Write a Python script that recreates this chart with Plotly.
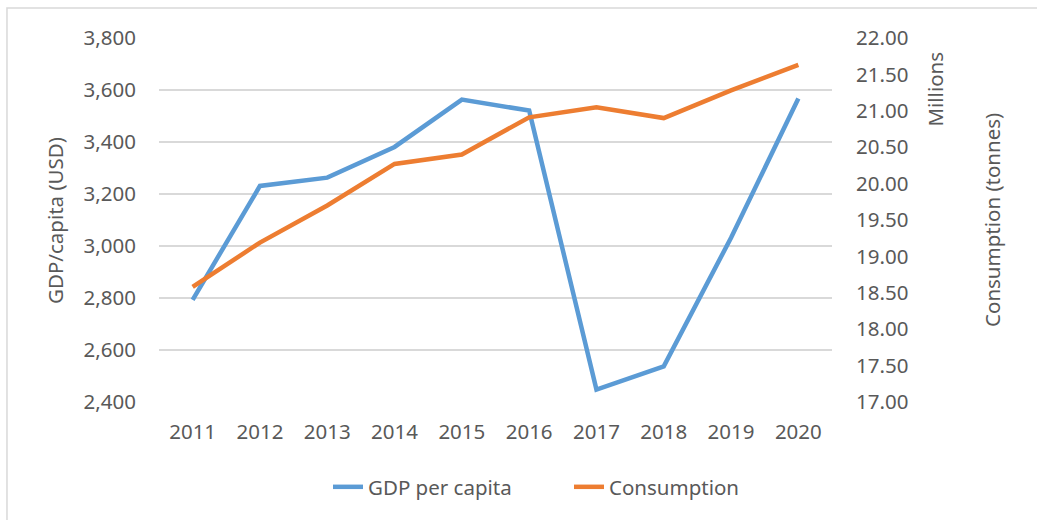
import plotly.graph_objects as go

years = ["2011", "2012", "2013", "2014", "2015", "2016", "2017", "2018", "2019", "2020"]
gdp_per_capita = [2793, 3231, 3263, 3381, 3563, 3521, 2448, 2537, 3032, 3567]
consumption_millions = [18.58, 19.19, 19.70, 20.27, 20.40, 20.91, 21.05, 20.90, 21.28, 21.63]

left_ticks = [2400, 2600, 2800, 3000, 3200, 3400, 3600, 3800]
right_ticks = [17.0, 17.5, 18.0, 18.5, 19.0, 19.5, 20.0, 20.5, 21.0, 21.5, 22.0]

BLUE = "#5B9BD5"
ORANGE = "#ED7D31"
TXT = "#595959"
GRID = "#D9D9D9"
FONT = "Noto Sans"
FS = 20.5

fig = go.Figure()
fig.add_trace(go.Scatter(x=years, y=gdp_per_capita, mode="lines", name="GDP per capita",
                         line=dict(color=BLUE, width=4.5)))
fig.add_trace(go.Scatter(x=years, y=consumption_millions, mode="lines", name="Consumption",
                         line=dict(color=ORANGE, width=4.5), yaxis="y2"))

fig.update_layout(
    width=1037, height=520,
    margin=dict(l=159, r=205, t=38, b=118),
    paper_bgcolor="white", plot_bgcolor="white",
    font=dict(family=FONT, size=FS, color=TXT),
    showlegend=True,
    legend=dict(orientation="h", x=0.2511, xanchor="left", y=-0.2335, yanchor="middle",
                entrywidth=196, entrywidthmode="pixels",
                font=dict(size=FS, color=TXT), tracegroupgap=0),
    xaxis=dict(type="category", range=[-0.5, 9.5], showgrid=False, showline=False,
               ticks="", ticklabelstandoff=15, automargin=False,
               tickfont=dict(size=FS, color=TXT)),
    yaxis=dict(range=[2400, 3800], tickvals=left_ticks, tickformat=",d",
               showgrid=True, gridcolor=GRID, gridwidth=1.5, zeroline=False,
               showline=False, ticks="", ticklabelstandoff=22, automargin=False,
               tickfont=dict(size=FS, color=TXT)),
    yaxis2=dict(range=[17, 22], tickvals=right_ticks, tickformat=".2f",
                overlaying="y", side="right", showgrid=False, zeroline=False,
                showline=False, ticks="", ticklabelstandoff=23, automargin=False,
                tickfont=dict(size=FS, color=TXT)),
    shapes=[dict(type="rect", xref="paper", yref="paper", x0=-0.2259, x1=1.4, y0=-0.5, y1=1.0824,
                 line=dict(color="#D9D9D9", width=1.5), fillcolor="rgba(0,0,0,0)", layer="below")],
    annotations=[
        dict(text="GDP/capita (USD)", textangle=-90, xref="paper", yref="paper",
             x=-0.1546, y=0.5, xanchor="center", yanchor="middle", showarrow=False,
             font=dict(size=FS, color=TXT)),
        dict(text="Consumption (tonnes)", textangle=-90, xref="paper", yref="paper",
             x=1.2377, y=0.5, xanchor="center", yanchor="middle", showarrow=False,
             font=dict(size=FS, color=TXT)),
        dict(text="Millions", textangle=-90, xref="paper", yref="paper",
             x=1.153, y=0.861, xanchor="center", yanchor="middle", showarrow=False,
             font=dict(size=FS, color=TXT)),
    ],
)

fig.write_html("out.html", config={"displayModeBar": False},
               post_script="document.body.style.margin='0';")
